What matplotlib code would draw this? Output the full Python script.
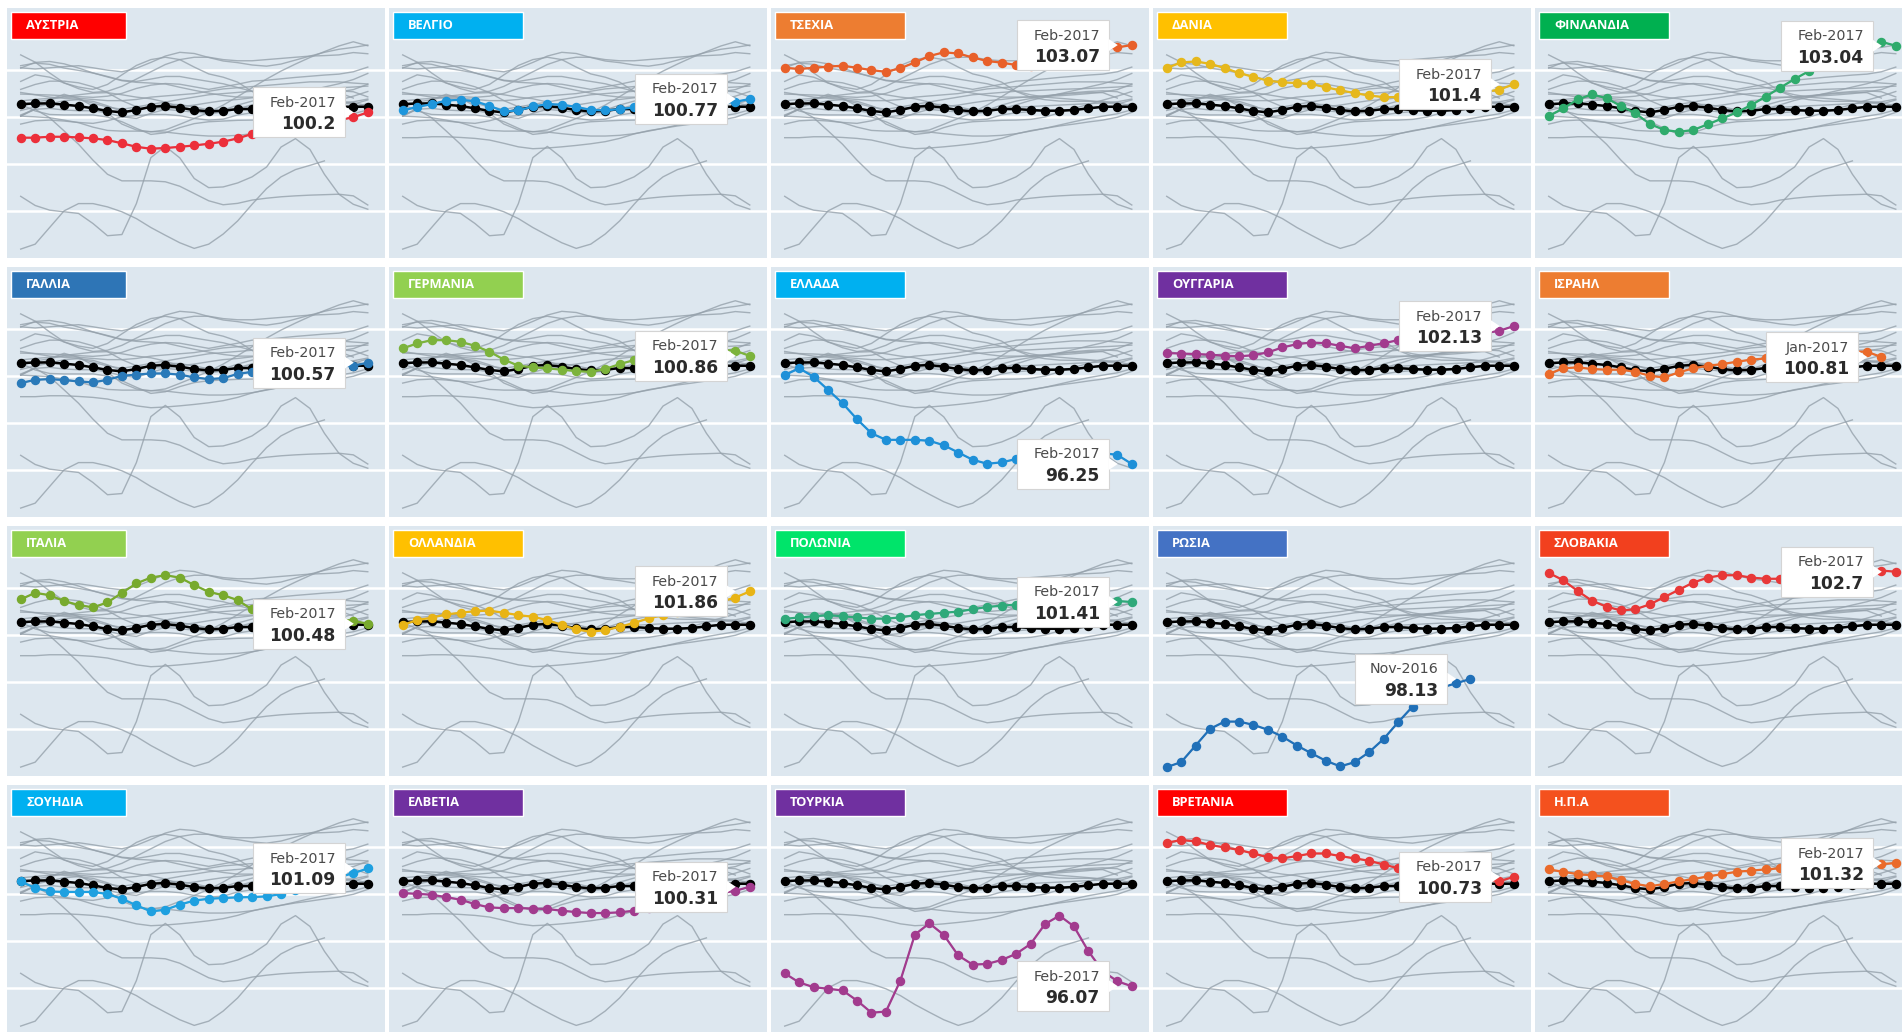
import numpy as np
import pandas as pd
import matplotlib
matplotlib.use("Agg")
import matplotlib.pyplot as plt
from matplotlib.patches import Rectangle, Polygon

nan = np.nan

# months Feb-2015 .. Feb-2017
months = list(pd.date_range("2015-02-01", periods=25, freq="MS").strftime("%b-%Y"))

# reference line (black) shown in every panel
average = [100.55, 100.58, 100.58, 100.53, 100.47, 100.37, 100.26, 100.2, 100.3, 100.44, 100.47, 100.4, 100.3,
           100.24, 100.27, 100.34, 100.34, 100.3, 100.27, 100.27, 100.3, 100.37, 100.44, 100.44, 100.44]

austria = [99.12, 99.12, 99.16, 99.16, 99.13, 99.09, 99.02, 98.88, 98.73, 98.65, 98.68, 98.73, 98.79,
           98.86, 98.95, 99.09, 99.28, 99.42, 99.52, 99.62, 99.70, 99.79, 99.87, 99.99, 100.2]
belgium = [100.28, 100.43, 100.55, 100.70, 100.74, 100.67, 100.48, 100.24, 100.28, 100.45, 100.55, 100.53, 100.43,
           100.31, 100.28, 100.34, 100.41, 100.45, 100.48, 100.51, 100.54, 100.57, 100.60, 100.65, 100.77]
czech = [102.10, 102.05, 102.10, 102.15, 102.19, 102.10, 102.00, 101.93, 102.08, 102.33, 102.60, 102.76, 102.71,
         102.54, 102.39, 102.32, 102.22, 102.17, 102.26, 102.43, 102.60, 102.76, 102.89, 102.97, 103.07]
denmark = [102.09, 102.33, 102.37, 102.27, 102.09, 101.88, 101.71, 101.55, 101.48, 101.45, 101.41, 101.27, 101.14,
           101.02, 100.92, 100.85, 100.85, 100.85, 100.88, 100.91, 100.95, 101.0, 101.07, 101.17, 101.4]
finland = [100.04, 100.37, 100.75, 100.97, 100.80, 100.47, 100.16, 99.70, 99.45, 99.37, 99.45, 99.69, 99.94,
           100.20, 100.51, 100.87, 101.25, 101.62, 101.96, 102.26, 102.54, 102.79, 103.03, 103.21, 103.04]
france = [99.70, 99.84, 99.87, 99.83, 99.77, 99.73, 99.84, 100.01, 100.06, 100.11, 100.11, 100.06, 99.94,
          99.87, 99.91, 100.09, 100.18, 100.23, 100.27, 100.30, 100.33, 100.37, 100.41, 100.44, 100.57]
germany = [101.18, 101.39, 101.53, 101.53, 101.46, 101.29, 101.04, 100.70, 100.44, 100.37, 100.33, 100.27, 100.21,
           100.18, 100.30, 100.51, 100.68, 100.79, 100.89, 100.98, 101.04, 101.09, 101.12, 101.08, 100.86]
greece = [100.04, 100.33, 99.97, 99.41, 98.84, 98.16, 97.56, 97.28, 97.28, 97.28, 97.24, 97.05, 96.74,
          96.43, 96.26, 96.32, 96.46, 96.54, 96.60, 96.64, 96.67, 96.69, 96.71, 96.64, 96.25]
hungary = [100.98, 100.96, 100.94, 100.91, 100.87, 100.84, 100.89, 101.01, 101.22, 101.36, 101.43, 101.40, 101.29,
           101.18, 101.29, 101.40, 101.53, 101.57, 101.63, 101.69, 101.74, 101.79, 101.83, 101.93, 102.13]
israel = [100.09, 100.33, 100.37, 100.30, 100.27, 100.27, 100.18, 100.01, 99.94, 100.16, 100.33, 100.44, 100.51,
          100.61, 100.70, 100.75, 100.82, 100.87, 100.91, 100.96, 101.01, 101.04, 101.04, 100.81, nan]
italy = [101.52, 101.80, 101.70, 101.45, 101.28, 101.18, 101.39, 101.80, 102.20, 102.45, 102.55, 102.45, 102.13,
         101.84, 101.70, 101.49, 101.09, 100.85, 100.74, 100.68, 100.67, 100.67, 100.67, 100.61, 100.48]
netherlands = [100.43, 100.64, 100.74, 100.88, 100.95, 101.02, 101.04, 100.95, 100.85, 100.78, 100.64, 100.43, 100.24,
               100.14, 100.21, 100.35, 100.52, 100.71, 100.85, 100.99, 101.13, 101.28, 101.42, 101.60, 101.86]
poland = [100.69, 100.75, 100.80, 100.85, 100.80, 100.75, 100.70, 100.70, 100.75, 100.85, 100.90, 100.95, 101.00,
          101.10, 101.20, 101.25, 101.30, 101.35, 101.40, 101.45, 101.50, 101.50, 101.50, 101.45, 101.41]
russia = [94.37, 94.58, 95.29, 96.0, 96.31, 96.31, 96.17, 95.96, 95.67, 95.29, 94.96, 94.64, 94.40,
          94.58, 95.01, 95.57, 96.28, 96.95, 97.45, 97.76, 97.94, 98.13, nan, nan, nan]
slovakia = [102.65, 102.34, 101.88, 101.46, 101.21, 101.05, 101.10, 101.31, 101.62, 101.93, 102.24, 102.45, 102.55,
            102.55, 102.45, 102.40, 102.40, 102.45, 102.50, 102.55, 102.60, 102.62, 102.65, 102.75, 102.7]
sweden = [100.54, 100.26, 100.11, 100.09, 100.09, 100.09, 100.0, 99.80, 99.52, 99.26, 99.33, 99.55, 99.72,
          99.80, 99.83, 99.86, 99.87, 99.90, 100.0, 100.18, 100.37, 100.54, 100.72, 100.89, 101.09]
switzerland = [100.04, 100.01, 99.97, 99.87, 99.76, 99.57, 99.43, 99.40, 99.40, 99.38, 99.36, 99.29, 99.23,
               99.19, 99.19, 99.22, 99.29, 99.40, 99.52, 99.66, 99.80, 99.93, 100.04, 100.14, 100.31]
turkey = [96.62, 96.23, 96.03, 95.96, 95.89, 95.46, 94.94, 94.99, 96.31, 98.27, 98.75, 98.26, 97.38,
          96.99, 97.02, 97.19, 97.45, 97.87, 98.72, 99.08, 98.62, 97.56, 96.71, 96.28, 96.07]
uk = [102.19, 102.30, 102.25, 102.09, 101.99, 101.88, 101.73, 101.57, 101.52, 101.62, 101.73, 101.73, 101.62,
      101.52, 101.42, 101.26, 101.10, 100.95, 100.85, 100.80, 100.75, 100.70, 100.62, 100.55, 100.73]
usa = [101.05, 100.95, 100.85, 100.80, 100.75, 100.59, 100.43, 100.33, 100.43, 100.54, 100.64, 100.75, 100.85,
       100.95, 101.00, 101.05, 101.10, 101.12, 101.15, 101.18, 101.20, 101.22, 101.25, 101.28, 101.32]

names = ["ΑΥΣΤΡΙΑ", "ΒΕΛΓΙΟ", "ΤΣΕΧΙΑ", "ΔΑΝΙΑ", "ΦΙΝΛΑΝΔΙΑ",
         "ΓΑΛΛΙΑ", "ΓΕΡΜΑΝΙΑ", "ΕΛΛΑΔΑ", "ΟΥΓΓΑΡΙΑ", "ΙΣΡΑΗΛ",
         "ΙΤΑΛΙΑ", "ΟΛΛΑΝΔΙΑ", "ΠΟΛΩΝΙΑ", "ΡΩΣΙΑ", "ΣΛΟΒΑΚΙΑ",
         "ΣΟΥΗΔΙΑ", "ΕΛΒΕΤΙΑ", "ΤΟΥΡΚΙΑ", "ΒΡΕΤΑΝΙΑ", "Η.Π.Α"]
series = [austria, belgium, czech, denmark, finland,
          france, germany, greece, hungary, israel,
          italy, netherlands, poland, russia, slovakia,
          sweden, switzerland, turkey, uk, usa]

label_colors = ["#ff0000", "#00b0f0", "#ed7d31", "#ffc000", "#00b050",
                "#2e75b6", "#92d050", "#00b0f0", "#7030a0", "#ed7d31",
                "#92d050", "#ffc000", "#00e46a", "#4472c4", "#f2401e",
                "#00b0f0", "#7030a0", "#7030a0", "#ff0000", "#f4511e"]
line_colors = ["#ec2f3a", "#1e96dc", "#e8602a", "#e6b81c", "#2fab6c",
               "#2a7ab9", "#7cb33c", "#1e90d8", "#a23b8e", "#ea6a2a",
               "#78aa2e", "#e8b416", "#2fa97a", "#2070b8", "#e83838",
               "#1ea0e0", "#a23b8e", "#a23b8e", "#e83838", "#ea6a2a"]

# layout in pixels
FW, FH = 1902, 1032
col_left = [7, 389, 771, 1153, 1535]
row_top = [8, 267, 526, 785]
PW, PH = 378, 250
XMIN, XMAX = -0.947, 25.19
YMIN, YMAX = 93.99, 104.65
sx = PW / (XMAX - XMIN)
sy = PH / (YMAX - YMIN)

fig = plt.figure(figsize=(FW / 100, FH / 100), dpi=100)
fig.patch.set_facecolor("white")
x = np.arange(len(months))

for i, (name, s) in enumerate(zip(names, series)):
    r, c = divmod(i, 5)
    ax = fig.add_axes([col_left[c] / FW, 1 - (row_top[r] + PH) / FH, PW / FW, PH / FH])
    ax.set_facecolor("#dde7ef")
    ax.set_xlim(XMIN, XMAX)
    ax.set_ylim(YMIN, YMAX)
    for sp in ax.spines.values():
        sp.set_visible(False)
    ax.set_xticks([])
    ax.set_yticks([96, 98, 100, 102])
    ax.tick_params(left=False, labelleft=False)
    ax.yaxis.grid(True, color="white", lw=1.8)
    ax.set_axisbelow(True)

    # all countries in grey
    for other in series:
        ax.plot(x, other, color="#95a1ab", lw=1.0, alpha=0.8, zorder=2)

    ax.plot(x, average, color="black", lw=1.8, marker="o", ms=5.8, zorder=3)
    ax.plot(x, s, color=line_colors[i], lw=1.6, marker="o", ms=5.8, zorder=4)

    # country label
    lw_px = 115 if c == 0 else 130
    ax.add_patch(Rectangle((4 / PW, 1 - 31 / PH), lw_px / PW, 27 / PH, transform=ax.transAxes,
                           facecolor=label_colors[i], edgecolor="white", lw=1.0, zorder=6))
    ax.text(19 / PW, 1 - 17.5 / PH, name, transform=ax.transAxes, color="white",
            fontsize=9.3, fontweight="bold", family=["Open Sans", "DejaVu Sans"],
            va="center", ha="left", zorder=7)

    # tooltip at last available point
    arr = np.array(s, dtype=float)
    k = int(np.where(~np.isnan(arr))[0][-1])
    yv = arr[k]
    right = k - 23 / sx
    left = right - 92 / sx
    ax.add_patch(Rectangle((left, yv - 25 / sy), 92 / sx, 50 / sy, facecolor="white",
                           edgecolor="#d4d4d4", lw=0.8, zorder=8))
    ax.add_patch(Polygon([(right, yv + 6 / sy), (right + 9 / sx, yv), (right, yv - 6 / sy)],
                         closed=True, facecolor="white", edgecolor="none", zorder=8))
    ax.text(right - 9 / sx, yv + 9.5 / sy, months[k], color="#4a4a4a", fontsize=10.3,
            ha="right", va="center", zorder=9)
    ax.text(right - 9 / sx, yv - 12 / sy, f"{yv:g}", color="#2b2b2b", fontsize=12.3,
            fontweight="bold", ha="right", va="center", zorder=9)

fig.savefig("out.png", dpi=100, facecolor="white")
